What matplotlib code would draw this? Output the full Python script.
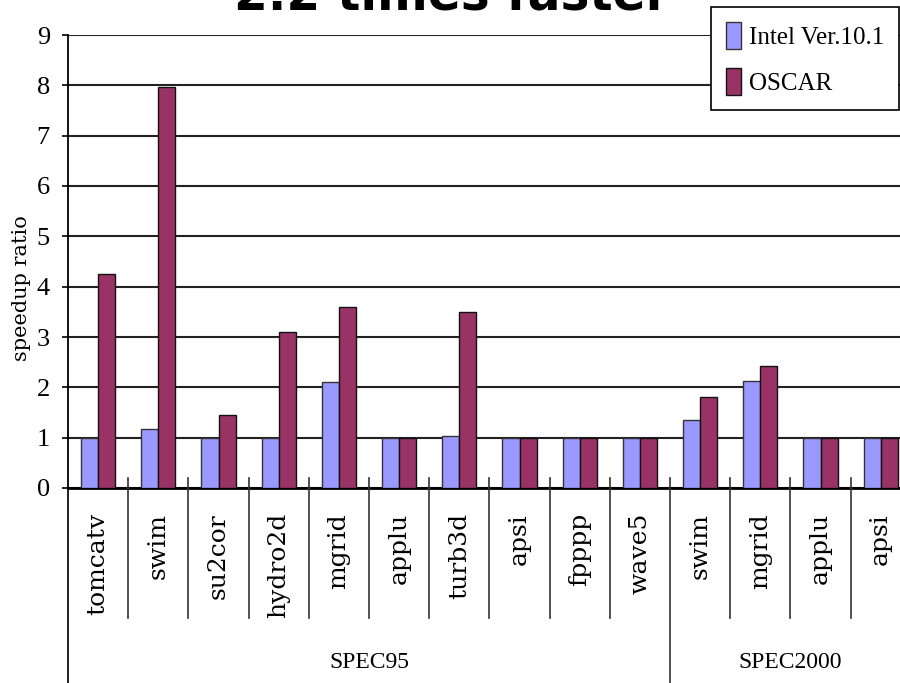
import matplotlib
matplotlib.use("Agg")
import matplotlib.pyplot as plt
import numpy as np

# ---- data ----
categories = ["tomcatv", "swim", "su2cor", "hydro2d", "mgrid", "applu", "turb3d",
              "apsi", "fpppp", "wave5", "swim", "mgrid", "applu", "apsi"]
groups = ["SPEC95", "SPEC2000"]
group_sizes = [10, 4]
intel = [1.0, 1.17, 1.0, 1.0, 2.1, 1.0, 1.04, 1.0, 1.0, 1.0, 1.35, 2.13, 1.0, 1.0]
oscar = [4.25, 7.97, 1.46, 3.1, 3.6, 1.0, 3.5, 1.0, 1.0, 1.0, 1.81, 2.42, 1.0, 1.0]
series_names = ["Intel Ver.10.1", "OSCAR"]
yticks = list(range(0, 10))
title = "2.2 times faster"

W, H = 900, 683
fig = plt.figure(figsize=(W / 100, H / 100), dpi=100)
ax = fig.add_axes([68 / W, 195 / H, 842.8 / W, 453 / H])

n = len(categories)
x = np.arange(n) + 0.5
bw = 0.285
b1 = ax.bar(x - bw / 2, intel, bw, color="#9999FF", edgecolor="#333333", linewidth=1.0,
            label=series_names[0], zorder=3)
b2 = ax.bar(x + bw / 2, oscar, bw, color="#993366", edgecolor="#111111", linewidth=1.0,
            label=series_names[1], zorder=3)

ax.set_xlim(0, n)
ax.set_ylim(0, 9)
ax.set_yticks(yticks)
ax.yaxis.grid(True, color="#222222", linewidth=1.5, zorder=0)
ax.set_axisbelow(True)
ax.set_xticks([])
for s in ["top", "right"]:
    ax.spines[s].set_visible(False)
ax.spines["left"].set_linewidth(1.3)
ax.spines["bottom"].set_linewidth(2.0)
ax.tick_params(axis="y", length=4, width=1.2, pad=9, labelsize=19)
for lab in ax.get_yticklabels():
    lab.set_fontfamily("Liberation Serif")

tr = ax.get_xaxis_transform()
ah = 453.0
def yf(px):
    return (488.0 - px) / ah

# left spine extension through the category table
ax.plot([0, 0], [0, yf(683)], transform=tr, color="#111111", lw=1.3, clip_on=False)

# separators
bounds = np.cumsum(group_sizes)
for k in range(1, n):
    bottom = yf(683) if k in bounds else yf(618)
    ax.plot([k, k], [yf(478), bottom], transform=tr, color="#333333", lw=1.2,
            clip_on=False, zorder=4)

# category labels
for xi, c in zip(x, categories):
    ax.text(xi, yf(513), c, transform=tr, rotation=90, ha="center", va="top",
            fontsize=18, family="DejaVu Serif")

# group labels
start = 0
for g, sz in zip(groups, group_sizes):
    ax.text(start + sz / 2, yf(663), g, transform=tr, ha="center", va="center",
            fontsize=17, family="Liberation Serif")
    start += sz

# y label
fig.text(22 / W, 1 - 288 / H, "speedup ratio", rotation=90, ha="center", va="center",
         fontsize=15, family="DejaVu Serif")

# title (partly above the figure, as in the reference)
fig.text(452 / W, 1 - 9 / H, title, ha="center", va="baseline", fontsize=35,
         fontweight="bold", family="DejaVu Sans")

leg = fig.legend(handles=[b1, b2], loc="upper right", bbox_to_anchor=(899 / W, 1 - 7 / H),
                 prop={"family": "Liberation Serif", "size": 18}, frameon=True,
                 fancybox=False, shadow=False, framealpha=1, edgecolor="black",
                 handlelength=0.6, handleheight=1.3, handletextpad=0.3,
                 labelspacing=0.75, borderpad=0.6, borderaxespad=0)
leg.get_frame().set_linewidth(1.2)

fig.savefig("out.png", dpi=100)
